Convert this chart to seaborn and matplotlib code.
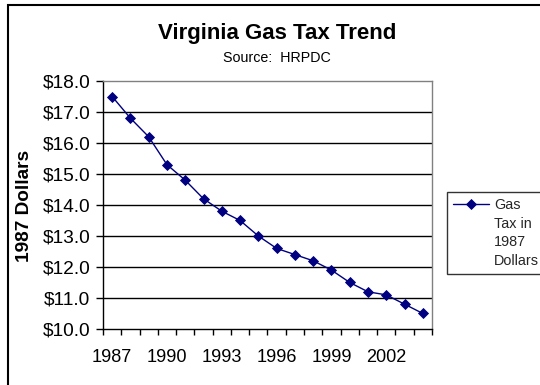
import numpy as np
import pandas as pd
import seaborn as sns
import matplotlib.pyplot as plt
from matplotlib.lines import Line2D
from matplotlib.patches import Rectangle

# values
years = list(range(1987, 2005))
gas_tax = [17.5, 16.8, 16.2, 15.3, 14.8, 14.2, 13.8, 13.5, 13.0,
           12.6, 12.4, 12.2, 11.9, 11.5, 11.2, 11.1, 10.8, 10.5]
year_labels = [1987, 1990, 1993, 1996, 1999, 2002]
dollar_ticks = [10, 11, 12, 13, 14, 15, 16, 17, 18]
legend_lines = ['Gas', 'Tax in', '1987', 'Dollars']

sns.set_theme(style='white')
plt.rcParams['font.family'] = ['Liberation Sans', 'DejaVu Sans']

df = pd.DataFrame({'year': years, 'tax': gas_tax})

fig = plt.figure(figsize=(5.4, 3.85), dpi=100, facecolor='w')
ax = fig.add_axes([103/540, 1-329/385, 329/540, 248/385])

sns.lineplot(data=df, x='year', y='tax', ax=ax, color='#000080', lw=1,
             marker='D', markersize=4.6, markeredgecolor='#000080',
             markeredgewidth=0.6, label=legend_lines[0])

ax.set_xlim(1986.5, 2004.5)
ax.set_ylim(10, 18)
for v in dollar_ticks[1:-1]:
    ax.axhline(v, color='black', lw=1, zorder=1)

# category boundaries carry the tick marks, labels sit on the years
ax.set_xticks(np.arange(1986.5, 2005, 1.0))
ax.set_xticklabels([])
ax.set_xticks(year_labels, minor=True)
ax.set_xticklabels([str(y) for y in year_labels], minor=True)
ax.tick_params(axis='x', which='major', direction='out', length=4, width=1,
               color='black', bottom=True)
ax.tick_params(axis='x', which='minor', length=0, pad=14.5, labelsize=13.1,
               labelcolor='black')
ax.set_yticks(dollar_ticks)
ax.set_yticklabels(['$%.1f' % v for v in dollar_ticks])
ax.tick_params(axis='y', direction='out', length=5, width=1, color='black',
               left=True, pad=4, labelsize=13.8, labelcolor='black')

ax.spines['left'].set_color('black')
ax.spines['bottom'].set_color('black')
ax.spines['top'].set_color('#808080')
ax.spines['right'].set_color('#808080')
for s in ax.spines.values():
    s.set_linewidth(1)

ax.set_xlabel('')
ax.set_ylabel('')

fig.text(277/540, 1-33/385, 'Virginia Gas Tax Trend', ha='center',
         va='center', fontsize=16, fontweight='bold', color='black')
fig.text(277/540, 1-58/385, 'Source:  HRPDC', ha='center', va='center',
         fontsize=10.3, color='black')
fig.text(25/540, 1-206/385, '1987 Dollars', rotation=90, ha='center',
         va='center', fontsize=13.7, fontweight='bold', color='black')

# legend: wrapped label, marker sits on the first line
handles, labels = ax.get_legend_handles_labels()
blank = [Line2D([], [], color='none') for _ in legend_lines[1:]]
leg = ax.legend(handles[:1] + blank, legend_lines, loc='upper left',
                bbox_to_anchor=(447/540, 1-192/385),
                bbox_transform=fig.transFigure, fontsize=10.4, frameon=True,
                fancybox=False, borderpad=0.4, labelspacing=0.33,
                handlelength=2.5, handletextpad=0.35, borderaxespad=0)
leg.get_frame().set_edgecolor('black')
leg.get_frame().set_linewidth(1)

fig.patches.append(Rectangle((7.5/540, -0.1), 1.2, 1.1 - 5.5/385,
                             transform=fig.transFigure, fill=False,
                             edgecolor='black', lw=1.5))

fig.savefig('out.png', dpi=100)
